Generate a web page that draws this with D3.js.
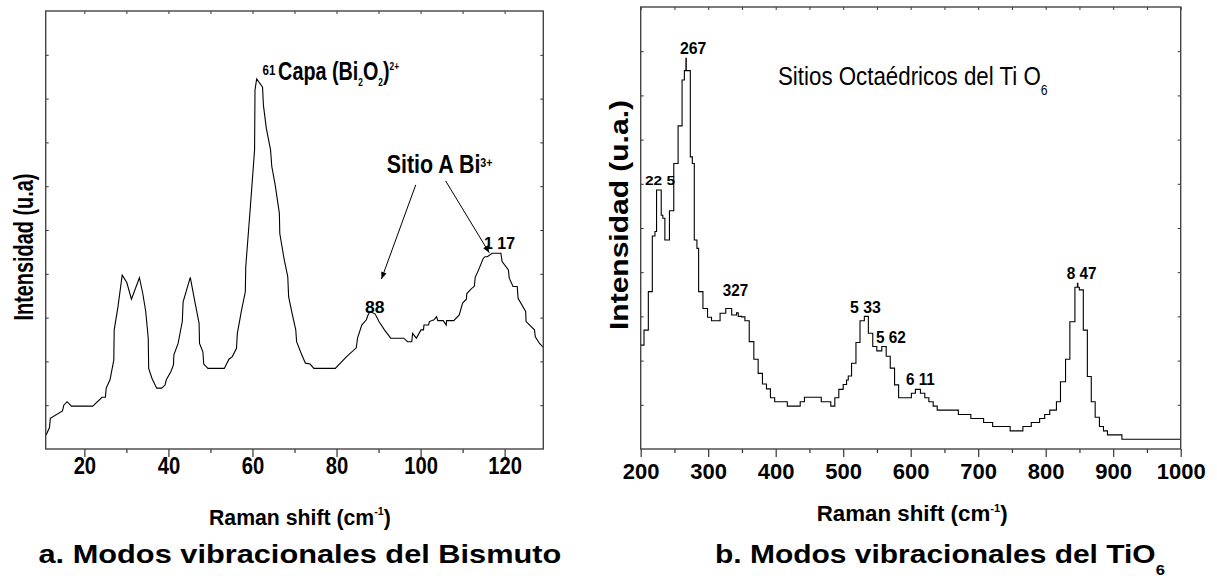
<!DOCTYPE html>
<html>
<head>
<meta charset="utf-8">
<script src="https://cdn.jsdelivr.net/npm/d3@7"></script>
<style>
  html, body { margin: 0; padding: 0; background: #fff; }
  svg { display: block; font-family: "Liberation Sans", Arial, Helvetica, sans-serif; }
</style>
</head>
<body>
<svg id="fig" width="1217" height="576"></svg>
<script>
// ---- Panel a: low-frequency Raman modes of the bismuth sites ----
const biShift = [10.9, 11.7, 11.9, 14.8, 15.1, 15.9, 16.9, 22.0, 24.2, 25.0, 25.2, 26.1, 27.0, 27.1, 28.0, 29.0,
  30.1, 31.2, 33.1, 33.9, 34.6, 35.2, 35.3, 36.1, 37.2, 38.4, 39.2, 39.5, 40.6, 41.2, 41.3, 42.3, 43.3, 43.5,
  45.2, 46.3, 47.3, 47.4, 48.2, 48.4, 49.4, 53.3, 54.4, 55.2, 56.2, 56.4, 57.4, 58.3, 58.4, 59.5, 60.5, 60.6,
  61.0, 62.4, 62.6, 63.3, 64.3, 64.6, 65.4, 66.4, 66.5, 67.5, 68.4, 68.6, 69.5, 70.3, 70.5, 71.6, 72.6, 73.7,
  74.6, 79.7, 82.4, 84.7, 85.0, 86.0, 87.1, 87.5, 88.0, 89.2, 90.1, 91.4, 92.9, 96.0, 96.9, 97.9, 98.1, 99.0,
  99.4, 100.1, 100.7, 100.8, 101.9, 102.1, 103.2, 103.8, 104.1, 105.4, 106.1, 106.2, 107.9, 109.2, 110.0,
  110.9, 111.0, 112.0, 112.8, 113.0, 113.8, 114.9, 115.3, 115.9, 117.0, 119.1, 119.4, 120.9, 121.1, 122.0,
  123.0, 123.2, 125.0, 125.1, 127.1, 127.3, 128.3, 129.2];
const biIntensity = [0.32, 0.49, 0.70, 0.87, 1.00, 1.08, 0.98, 0.98, 1.18, 1.18, 1.39, 1.58, 2.03, 2.72, 3.25, 3.97,
  3.80, 3.42, 3.91, 3.55, 3.14, 2.53, 1.84, 1.61, 1.39, 1.39, 1.46, 1.58, 1.77, 1.92, 2.15, 2.41, 2.91, 3.36,
  3.92, 3.36, 2.87, 2.41, 2.22, 1.94, 1.84, 1.84, 2.05, 2.11, 2.30, 2.64, 3.17, 3.59, 4.16, 5.53, 6.83, 8.20,
  8.45, 8.26, 7.85, 7.32, 6.83, 6.45, 6.03, 5.38, 4.92, 4.35, 3.93, 3.48, 3.06, 2.72, 2.45, 2.18, 1.96, 1.94,
  1.84, 1.84, 2.11, 2.31, 2.53, 2.83, 2.95, 3.06, 3.14, 3.08, 2.91, 2.72, 2.53, 2.53, 2.45, 2.45, 2.64, 2.53,
  2.60, 2.72, 2.72, 2.83, 2.83, 2.91, 2.95, 3.02, 2.93, 2.93, 2.83, 2.93, 2.93, 3.06, 3.33,
  3.42, 3.55, 3.65, 3.72, 3.92, 4.09, 4.35, 4.39, 4.39, 4.47, 4.47, 4.28, 4.09, 3.90, 3.71,
  3.71, 3.44, 3.14, 2.91, 2.72, 2.56, 2.41, 2.32];
const biTicks = [20, 40, 60, 80, 100, 120];
const biMinorTicks = [30, 50, 70, 90, 110];
const biTopTicks = [20, 30, 40, 50, 60, 70, 80, 90, 100, 110, 120];

// ---- Panel b: TiO6 octahedral modes (stepped spectrum) ----
const tiShift = [200, 204.9, 211.3, 217.2, 221.1, 223.5, 230.4, 232.8, 235.8, 242.6, 249.0, 255.4, 261.3, 264.7,
  267.0, 267.5, 273.5, 276.5, 279.4, 283.3, 285.8, 292.2, 299.0, 304.9, 317.6, 326.0, 334.8, 342.0, 344.5, 349.5,
  354.4, 360.8, 367.6, 374.0, 380.4, 386.3, 392.2, 398.5, 417.2, 436.3, 442.6, 467.5, 481.6, 487.6, 493.5, 500.0,
  505.0, 507.5, 512.4, 518.9, 524.9, 531.3, 537.3, 543.8, 549.8, 557.2, 563.7, 569.7, 576.1, 582.1, 601.0, 607.0,
  614.4, 620.9, 626.9, 633.3, 639.3, 670.6, 689.1, 708.0, 721.4, 747.3, 766.2, 778.6, 791.0, 798.5, 806.0, 815.9,
  821.9, 829.4, 835.8, 843.3, 847.0, 847.6, 849.8, 855.7, 861.7, 867.5, 873.3, 879.6, 885.6, 891.5, 912.9, 1000];
const tiIntensity = [2.35, 2.69, 3.56, 4.82, 4.92, 5.86, 5.29, 5.22, 4.73, 5.39, 6.46, 7.31, 8.35, 8.56,
  8.84, 8.56, 6.61, 6.46, 4.73, 4.54, 3.56, 3.18, 2.98, 2.90, 3.07, 3.18, 3.03, 3.08, 3.00, 2.99,
  2.90, 2.43, 2.03, 1.71, 1.47, 1.36, 1.16, 1.07, 0.97, 1.07, 1.17, 1.07, 0.97, 1.16, 1.35, 1.46,
  1.56, 1.65, 1.94, 2.41, 2.90, 3.00, 2.62, 2.32, 2.22, 2.32, 2.10, 1.83, 1.45, 1.16, 1.26, 1.35,
  1.26, 1.16, 1.07, 0.97, 0.88, 0.78, 0.69, 0.60, 0.51, 0.41, 0.51, 0.60, 0.69, 0.78, 0.88, 1.07,
  1.52, 2.03, 2.88, 3.66, 3.75, 3.66, 3.60, 2.69, 1.64, 1.07, 0.72, 0.51, 0.41, 0.32, 0.22, 0.22];
const tiTicks = [200, 300, 400, 500, 600, 700, 800, 900, 1000];
const tiMinorTicks = [250, 350, 450, 550, 650, 750, 850, 950];
const tiTopTicks = [200, 250, 300, 350, 400, 450, 500, 550, 600, 650, 700, 750, 800, 850, 900, 950, 1000];

// intensity grid (arbitrary units) used for the unlabeled side ticks
const intensityTicks = [1, 2, 3, 4, 5, 6, 7, 8, 9];

// peak annotations (position in data units, text as printed)
const biPeakLabels = [
  { text: "61", x: 62.4, y: 8.53, size: 14, width: 13 },
  { text: "88", x: 86.8, y: 3.11, size: 17, width: 19.5 },
  { text: "1 17", x: 115.1, y: 4.56, size: 17, width: 31 }
];
const biArrows = [
  { x1: 98.85, y1: 6.03, x2: 90.69, y2: 3.88 },
  { x1: 105.97, y1: 6.12, x2: 116.34, y2: 4.48 }
];
const tiPeakLabels = [
  { text: "22 5", x: 206.4, y: 5.97, size: 13, width: 30 },
  { text: "267", x: 258.2, y: 8.94, size: 16, width: 26.5 },
  { text: "327", x: 321.5, y: 3.46, size: 16, width: 25.5 },
  { text: "5 33", x: 510.1, y: 3.08, size: 16, width: 31 },
  { text: "5 62", x: 548.6, y: 2.40, size: 16, width: 30 },
  { text: "6 11", x: 593.0, y: 1.45, size: 16, width: 29 },
  { text: "8 47", x: 831.1, y: 3.85, size: 16, width: 30 }
];

const svg = d3.select("#fig");
const FONT = '"Liberation Sans", Arial, Helvetica, sans-serif';

// arrowhead for the "Sitio A" pointers
svg.append("defs").append("marker")
  .attr("id", "head").attr("viewBox", "0 0 10 10").attr("refX", 10).attr("refY", 5)
  .attr("markerWidth", 9).attr("markerHeight", 7).attr("markerUnits", "userSpaceOnUse")
  .attr("orient", "auto")
  .append("path").attr("d", "M0,1 L10,5 L0,9 Z").attr("fill", "#000");

// Writes a run of text (with optional sub/superscript parts) squeezed or
// stretched horizontally so it spans the given width.
function fitText(parent, parts, o) {
  const g = parent.append("g");
  const t = g.append("text")
    .attr("font-family", FONT)
    .attr("font-size", o.size)
    .attr("font-weight", o.weight || "bold")
    .attr("fill", "#000");
  let shift = 0;
  parts.forEach(p => {
    const s = p.sub ? (p.shift || 0.28) * o.size : p.sup ? -(p.shift || 0.38) * o.size : 0;
    t.append("tspan")
      .attr("dy", s - shift)
      .attr("font-size", (p.sub || p.sup) ? o.size * (p.scale || 0.5) : o.size)
      .text(p.t);
    shift = s;
  });
  const w = t.node().getBBox().width;
  const sx = o.width ? o.width / w : 1;
  if (o.anchor === "middle") t.attr("x", -w / 2);
  const rot = o.rotate ? ` rotate(${o.rotate})` : "";
  g.attr("transform", `translate(${o.x},${o.y})${rot} scale(${sx},1)`);
  return g;
}

function drawPanel(cfg) {
  const { box, xDomain, shift, intensity, curve } = cfg;
  const x = d3.scaleLinear().domain(xDomain).range([box.x0, box.x1]);
  const y = d3.scaleLinear().domain([0, 10]).range([box.y1, box.y0]);
  const g = svg.append("g");

  // spectrum
  const pts = shift.map((s, i) => [s, intensity[i]]);
  g.append("path")
    .datum(pts)
    .attr("fill", "none")
    .attr("stroke", "#000")
    .attr("stroke-width", 1.1)
    .attr("d", d3.line().x(d => x(d[0])).y(d => y(d[1])).curve(curve));

  // bottom axis, labelled major ticks
  const bx = g.append("g").attr("transform", `translate(0,${box.y1})`)
    .call(d3.axisBottom(x).tickValues(cfg.ticks).tickSize(8).tickSizeOuter(0).tickFormat(d3.format("d")));
  bx.select(".domain").remove();
  bx.attr("font-family", FONT).attr("font-size", cfg.tickFont);
  bx.selectAll("line").attr("stroke", "#333").attr("stroke-width", 1.2);
  bx.selectAll("text")
    .attr("fill", "#000").attr("font-weight", "bold")
    .attr("dy", null).attr("y", cfg.tickLabelY)
    .each(function () {
      const n = this.getComputedTextLength();
      d3.select(this).attr("textLength", n * cfg.tickSqueeze).attr("lengthAdjust", "spacingAndGlyphs");
    });

  // minor ticks
  const mx = g.append("g").attr("transform", `translate(0,${box.y1})`)
    .call(d3.axisBottom(x).tickValues(cfg.minorTicks).tickSize(4).tickSizeOuter(0).tickFormat(""));
  mx.select(".domain").remove();
  mx.selectAll("line").attr("stroke", "#333").attr("stroke-width", 1.2);

  // inward ticks on the other three sides
  const tx = g.append("g").attr("transform", `translate(0,${box.y0})`)
    .call(d3.axisTop(x).tickValues(cfg.topTicks).tickSize(-3).tickSizeOuter(0).tickFormat(""));
  const ly = g.append("g").attr("transform", `translate(${box.x0},0)`)
    .call(d3.axisLeft(y).tickValues(intensityTicks).tickSize(-3).tickSizeOuter(0).tickFormat(""));
  const ry = g.append("g").attr("transform", `translate(${box.x1},0)`)
    .call(d3.axisRight(y).tickValues(intensityTicks).tickSize(-3).tickSizeOuter(0).tickFormat(""));
  [tx, ly, ry].forEach(a => {
    a.select(".domain").remove();
    a.selectAll("line").attr("stroke", "#333").attr("stroke-width", 1);
  });

  // frame
  g.append("rect")
    .attr("x", box.x0).attr("y", box.y0)
    .attr("width", box.x1 - box.x0).attr("height", box.y1 - box.y0)
    .attr("fill", "none").attr("stroke", "#444").attr("stroke-width", 1.4);

  // peak labels
  cfg.peaks.forEach(p => {
    fitText(g, [{ t: p.text }], { x: x(p.x), y: y(p.y), size: p.size, width: p.width });
  });

  return { g, x, y };
}

// ---------- panel a ----------
const A = drawPanel({
  box: { x0: 45.7, x1: 543.3, y0: 11, y1: 449 },
  xDomain: [10.8, 129.2],
  shift: biShift, intensity: biIntensity,
  curve: d3.curveLinear,
  ticks: biTicks, minorTicks: biMinorTicks, topTicks: biTopTicks,
  tickFont: 23.5, tickLabelY: 25.3, tickSqueeze: 0.86,
  peaks: biPeakLabels
});

fitText(A.g, [{ t: "Capa (Bi" }, { t: "2", sub: true, scale: 0.42, shift: 0.24 }, { t: "O" },
  { t: "2", sub: true, scale: 0.42, shift: 0.24 }, { t: ")" }, { t: "2+", sup: true, scale: 0.42, shift: 0.42 }],
  { x: A.x(66.1), y: A.y(8.42), size: 25, width: 121 });

fitText(A.g, [{ t: "Sitio A Bi" }, { t: "3+", sup: true, scale: 0.5, shift: 0.26 }],
  { x: A.x(91.93), y: A.y(6.29), size: 25, width: 106 });

A.g.selectAll(".arrow").data(biArrows).join("line")
  .attr("class", "arrow")
  .attr("x1", d => A.x(d.x1)).attr("y1", d => A.y(d.y1))
  .attr("x2", d => A.x(d.x2)).attr("y2", d => A.y(d.y2))
  .attr("stroke", "#000").attr("stroke-width", 1)
  .attr("marker-end", "url(#head)");

// ---------- panel b ----------
const B = drawPanel({
  box: { x0: 640.7, x1: 1180.7, y0: 7, y1: 449 },
  xDomain: [200, 1000],
  shift: tiShift, intensity: tiIntensity,
  curve: d3.curveStepAfter,
  ticks: tiTicks, minorTicks: tiMinorTicks, topTicks: tiTopTicks,
  tickFont: 22, tickLabelY: 30.3, tickSqueeze: 1.0,
  peaks: tiPeakLabels
});

fitText(B.g, [{ t: "Sitios Octaédricos del Ti O" }, { t: "6", sub: true, scale: 0.55, shift: 0.42 }],
  { x: B.x(403.4), y: B.y(8.24), size: 25, weight: "normal", width: 270 });

// ---------- axis titles ----------
fitText(svg, [{ t: "Raman shift (cm" }, { t: "-1", sup: true, scale: 0.5, shift: 0.42 }, { t: ")" }],
  { x: 209, y: 525, size: 23, width: 182 });
fitText(svg, [{ t: "Raman shift (cm" }, { t: "-1", sup: true, scale: 0.5, shift: 0.42 }, { t: ")" }],
  { x: 816.7, y: 521, size: 22, width: 191 });

fitText(svg, [{ t: "Intensidad (u.a)" }],
  { x: 33, y: 247, size: 27, width: 147, rotate: -90, anchor: "middle" });
fitText(svg, [{ t: "Intensidad (u.a.)" }],
  { x: 628, y: 215, size: 26, width: 230, rotate: -90, anchor: "middle" });

// ---------- panel captions ----------
fitText(svg, [{ t: "a. Modos vibracionales del Bismuto" }],
  { x: 38.5, y: 563, size: 26, width: 523 });
fitText(svg, [{ t: "b. Modos vibracionales del TiO" }, { t: "6", sub: true, scale: 0.55, shift: 0.45 }],
  { x: 715, y: 563, size: 26, width: 450 });
</script>
</body>
</html>
